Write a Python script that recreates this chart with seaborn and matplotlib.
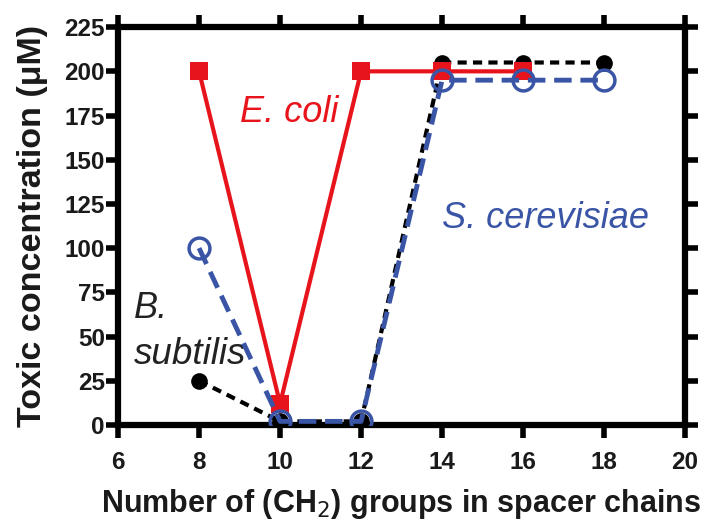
import matplotlib
matplotlib.use("Agg")
import matplotlib.pyplot as plt
import seaborn as sns
import pandas as pd

# Data
x_ecoli = [8, 10, 12, 14, 16]
y_ecoli = [200, 12, 200, 200, 200]
x_scer = [8, 10, 12, 14, 16, 18]
y_scer = [100, 2, 2, 195, 195, 195]
x_bsub = [8, 10, 12, 14, 16, 18]
y_bsub = [25, 2, 2, 205, 205, 205]
x_ticks = [6, 8, 10, 12, 14, 16, 18, 20]
y_ticks = [0, 25, 50, 75, 100, 125, 150, 175, 200, 225]

sns.set_theme(style="white")
plt.rcParams['font.family'] = ['Liberation Sans', 'DejaVu Sans']

fig = plt.figure(figsize=(7.07, 5.22), dpi=100)
ax = fig.add_axes([0.167, 0.186, 0.802, 0.762])

df_b = pd.DataFrame({"x": x_bsub, "y": y_bsub})
df_s = pd.DataFrame({"x": x_scer, "y": y_scer})
df_e = pd.DataFrame({"x": x_ecoli, "y": y_ecoli})

sns.lineplot(data=df_b, x="x", y="y", ax=ax, color="black", lw=3,
             marker="o", markersize=12, markeredgewidth=0, zorder=3)
ax.lines[-1].set_dashes([2.2, 1.5])
sns.lineplot(data=df_e, x="x", y="y", ax=ax, color="#e8141c", lw=3,
             marker="s", markersize=12.5, markeredgewidth=0, zorder=4)
sns.lineplot(data=df_s, x="x", y="y", ax=ax, color="#3a55a6", lw=3.5,
             marker="o", markersize=15, markerfacecolor="none",
             markeredgecolor="#3a55a6", markeredgewidth=2.5, zorder=5)
ax.lines[-1].set_dashes([3.6, 1.8])
ax.lines[-1].set_markerfacecolor("none")

ax.set_xlim(6, 20)
ax.set_ylim(0, 225)
ax.set_xticks(x_ticks)
ax.set_yticks(y_ticks)
ax.set_xticklabels([str(v) for v in x_ticks], fontsize=17.5, fontweight="bold")
ax.set_yticklabels([str(v) for v in y_ticks], fontsize=17.5, fontweight="bold")

for s in ax.spines.values():
    s.set_visible(True)
    s.set_color("black")
    s.set_linewidth(4.5)
ax.tick_params(axis="both", which="both", direction="out", length=9, width=4,
               color="black", labelcolor="#1a1a1a")
ax.tick_params(axis="x", pad=10)
ax.tick_params(axis="y", pad=0.5)
ax.tick_params(top=True, right=True, bottom=True, left=True,
               labeltop=False, labelright=False)

ax.set_xlabel("Number of (CH$_2$) groups in spacer chains", fontsize=22,
              fontweight="bold", labelpad=9, color="#1a1a1a")
ax.set_ylabel("Toxic concentration (\u03bcM)", fontsize=24.5, fontweight="bold",
              labelpad=12, color="#1a1a1a")

ax.text(9.0, 177, "E. coli", color="#e8141c", fontsize=26, style="italic",
        ha="left", va="center")
ax.text(14.0, 117, "S. cerevisiae", color="#3a55a6", fontsize=26,
        style="italic", ha="left", va="center")
ax.text(6.4, 66, "B.", color="#222222", fontsize=26, style="italic",
        ha="left", va="center")
ax.text(6.4, 40, "subtilis", color="#222222", fontsize=26.5, style="italic",
        ha="left", va="center")

fig.savefig("out.png", dpi=100)
